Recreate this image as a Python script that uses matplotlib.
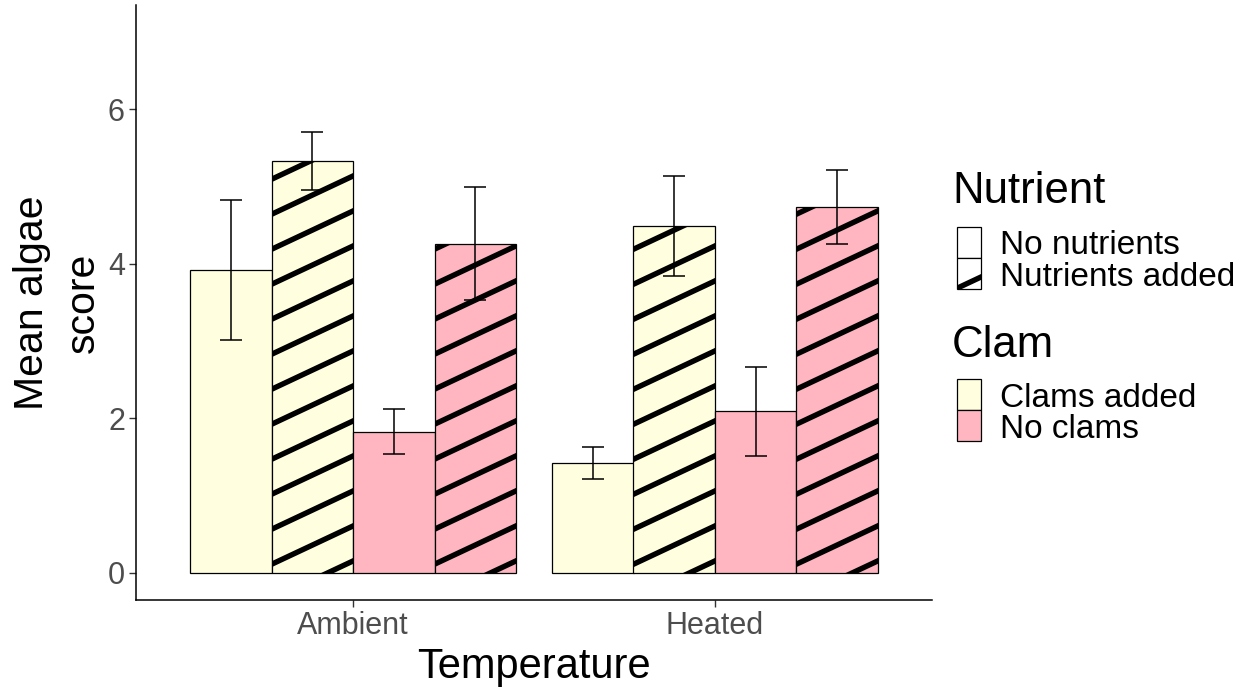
import numpy as np
from matplotlib import pyplot as plt
from matplotlib.collections import LineCollection
from matplotlib.patches import Rectangle
from matplotlib.transforms import IdentityTransform

plt.rcParams["font.family"] = ["Liberation Sans", "DejaVu Sans"]

temperatures = ["Ambient", "Heated"]
# order inside each group: (clam, nutrient)
groups = [
    ("Clams added", "No nutrients"),
    ("Clams added", "Nutrients added"),
    ("No clams", "No nutrients"),
    ("No clams", "Nutrients added"),
]
# mean algae score per temperature, in the order of `groups`
ambient_mean = [3.92, 5.33, 1.83, 4.26]
heated_mean = [1.42, 4.49, 2.09, 4.74]
ambient_se = [0.90, 0.37, 0.29, 0.73]
heated_se = [0.21, 0.65, 0.58, 0.48]

clam_colors = {"Clams added": "#FFFFE0", "No clams": "#FFB6C1"}

W, H = 1252, 689
fig = plt.figure(figsize=(W / 100, H / 100), dpi=100)
ax = fig.add_axes([136 / W, 1 - 600 / H, (932 - 136) / W, (600 - 5) / H])


def add_stripes(patch, slope=0.47, step=35, lw=3.9):
    # draw thick diagonal stripes in pixel space, clipped to the patch
    bb = patch.get_window_extent()
    x0, x1, y0, y1 = bb.x0, bb.x1, bb.y0, bb.y1
    segs = []
    c = y0 - slope * (x1 - x0) - step + 12
    while c < y1 + step:
        segs.append([(x0 - 5, c - 5 * slope), (x1 + 5, c + slope * (x1 - x0 + 5))])
        c += step
    lc = LineCollection(segs, colors="black", linewidths=lw,
                        transform=IdentityTransform(), zorder=patch.get_zorder() + 0.1)
    if patch.axes is not None:
        patch.axes.add_collection(lc, autolim=False)
    else:
        fig.add_artist(lc)
    lc.set_clip_path(patch)


ax.set_xlim(0.4, 2.6)
ax.set_ylim(-0.35, 7.35)

width = 0.225
offsets = (np.arange(4) - 1.5) * width
x = np.arange(1, len(temperatures) + 1)
means = np.array([ambient_mean, heated_mean])
ses = np.array([ambient_se, heated_se])

hatched = []
for i, (clam, nut) in enumerate(groups):
    bars = ax.bar(x + offsets[i], means[:, i], width=width, color=clam_colors[clam],
                  edgecolor="black", linewidth=0.9, zorder=2)
    ax.errorbar(x + offsets[i], means[:, i], yerr=ses[:, i], fmt="none",
                ecolor="black", elinewidth=1.1, capsize=8, capthick=1.1, zorder=4)
    if nut == "Nutrients added":
        hatched.extend(bars.patches)

ax.set_xticks(x)
ax.set_xticklabels(temperatures)
ax.set_yticks([0, 2, 4, 6])
ax.tick_params(axis="both", labelsize=22, labelcolor="#4D4D4D", color="#333333",
               length=5, width=1.0, pad=3)
for side in ["top", "right"]:
    ax.spines[side].set_visible(False)
for side in ["left", "bottom"]:
    ax.spines[side].set_linewidth(1.1)

ax.set_xlabel("Temperature", fontsize=30, labelpad=4)
ax.set_ylabel("Mean algae\nscore", fontsize=29.5, labelpad=4, linespacing=1.45)

for p in hatched:
    add_stripes(p)


def px(xp, yp):
    return xp / W, 1 - yp / H


# legend drawn as figure artists
fig.text(*px(952, 203), "Nutrient", fontsize=31.5, va="baseline", ha="left")
fig.text(*px(952, 357), "Clam", fontsize=31.5, va="baseline", ha="left")

legend_rows = [
    ("No nutrients", "white", False, 227, 258),
    ("Nutrients added", "white", True, 258, 289),
    ("Clams added", clam_colors["Clams added"], False, 379, 410),
    ("No clams", clam_colors["No clams"], False, 410, 441),
]
for label, fc, striped, top, bot in legend_rows:
    rx, ry = px(957, bot)
    key = Rectangle((rx, ry), 24 / W, (bot - top) / H, transform=fig.transFigure,
                    facecolor=fc, edgecolor="black", linewidth=0.9, zorder=2)
    fig.add_artist(key)
    if striped:
        add_stripes(key)
    fig.text(*px(1000, (top + bot) / 2), label, fontsize=24, va="center_baseline", ha="left")

fig.savefig("out.png", dpi=100)
